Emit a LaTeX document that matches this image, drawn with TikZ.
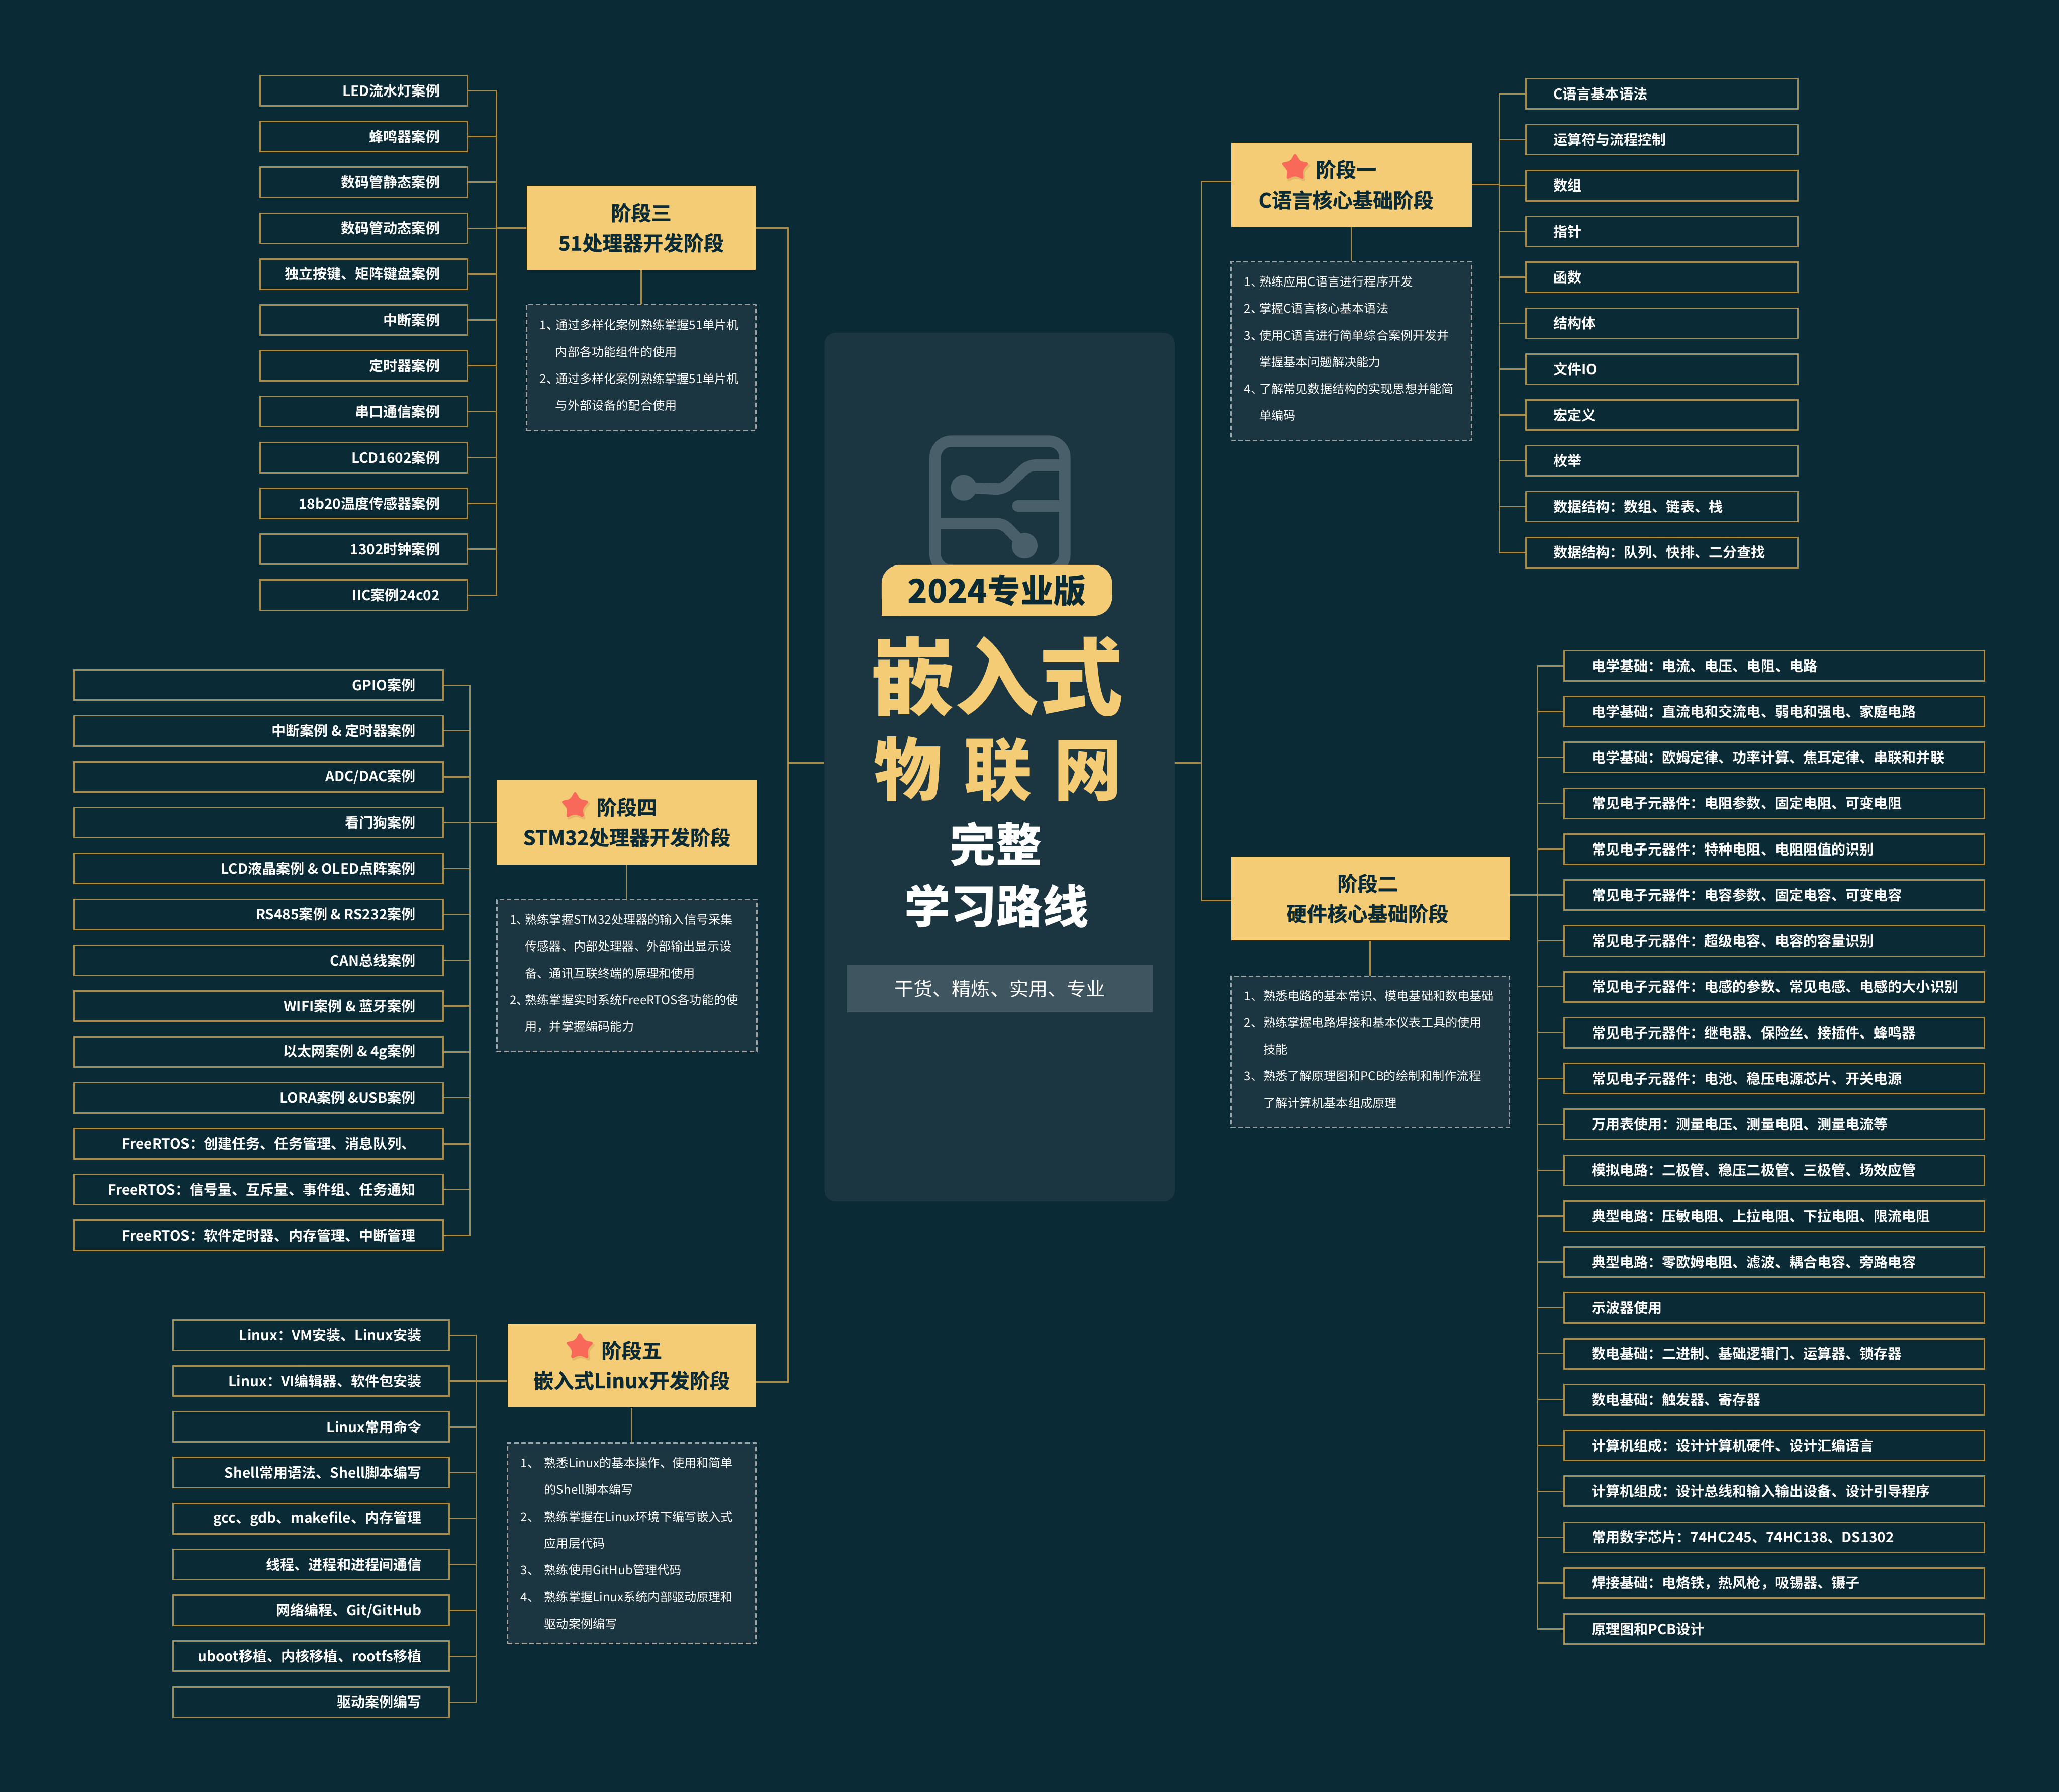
\documentclass[tikz,border=0pt]{standalone}
\usepackage{fontspec}
\usetikzlibrary{shapes.geometric}
\newfontfamily\cjkreg{Noto Sans CJK SC}
\newfontfamily\cjkbold{Noto Sans CJK SC Bold}
\newfontfamily\cjkstage{Noto Sans CJK SC Bold}[FakeBold=0.8]
\newfontfamily\cjkblack{Noto Sans CJK SC Black}
\definecolor{bgc}{HTML}{0A2A35}
\definecolor{panelc}{HTML}{1B3640}
\definecolor{goldc}{HTML}{F4CC76}
\definecolor{linec}{HTML}{A68B4A}
\definecolor{dashc}{HTML}{9EA4A6}
\definecolor{iconc}{HTML}{49606A}
\definecolor{subc}{HTML}{3F5660}
\definecolor{starc}{HTML}{F9695A}
\definecolor{shadc}{HTML}{D9A85E}
\newcommand\nm[1]{\makebox[\dw][l]{#1}}
\newcommand\dend{\rule[-4.6pt]{0pt}{1pt}}
\newcommand\leafr[2]{\makebox[#1][r]{#2}}
\newcommand\leafl[2]{\makebox[#1][l]{#2}}
\tikzset{
  conn/.style={draw=linec,line width=1pt},
  leafbox/.style={rectangle,draw=linec,line width=1.1pt,fill=bgc,text=white,inner xsep=21pt,inner ysep=0pt,minimum height=23pt,
    font=\cjkbold\fontsize{10.75}{12}\selectfont},
  stagebox/.style={rectangle,fill=goldc,text=bgc,align=center,inner sep=0pt,minimum height=64pt,
    font=\cjkstage\fontsize{15.4}{23}\selectfont},
  descbox/.style={rectangle,draw=dashc,line width=1pt,dash pattern=on 3.5pt off 2pt,fill=panelc,text=white,align=left,inner xsep=10pt,inner ysep=0pt,
    font=\cjkreg\fontsize{9.25}{20.4}\selectfont},
  starshape/.style={star,star points=5,star point ratio=1.85,inner sep=0pt,minimum size=23pt,rounded corners=2.2pt,fill=starc},
  starshadow/.style={star,star points=5,star point ratio=1.85,inner sep=0pt,minimum size=24pt,rounded corners=2.2pt,fill=shadc,opacity=.55},
  icon/.style={draw=iconc,line width=8.7pt},
  dot/.style={circle,fill=iconc,inner sep=0pt,minimum size=19.6pt},
  bigt/.style={text=goldc,inner sep=0pt,font=\cjkblack\fontsize{64}{70}\selectfont},
  midt/.style={text=white,inner sep=0pt,font=\cjkblack\fontsize{35}{40}\selectfont},
}
\begin{document}
\begin{tikzpicture}[x=1pt,y=-1pt]
\useasboundingbox (0,0) rectangle (1568,1364.6);
\fill[bgc] (0,0) rectangle (1568,1364.6);

% central panel
\node[rectangle,fill=panelc,rounded corners=8.4pt,minimum width=266.6pt,minimum height=661.6pt,inner sep=0pt] (panel) at (761.3,584.2) {};

% icon
\draw[icon,rounded corners=12.4pt] (712.2,336) rectangle (810.9,434.4);
\node[dot] (dotA) at (733.9,371.4) {};
\node[dot] (dotB) at (780.3,415.6) {};
\draw[icon,rounded corners=5pt] (dotA.center) -- (764,372.5) -- (783.4,354.3) -- (810.9,354.3);
\draw[icon,line cap=round] (775.1,385.3) -- (806,385.3);
\draw[icon,rounded corners=5pt] (712.2,398.7) -- (764,398.7) -- (dotB.center);

% badge
\fill[goldc] (671.4,450) rectangle (695,469);
\node[rectangle,fill=goldc,rounded corners=14pt,minimum width=175.5pt,minimum height=38.8pt,inner sep=0pt,text=bgc,font=\cjkblack\fontsize{25}{28}\selectfont] (badge) at (759.15,449.6) {2024专业版};

% titles
\node[bigt] (titleA) at (759.3,515) {嵌入式};
\node[bigt,font=\cjkblack\fontsize{52}{60}\selectfont] (titleB) at (760,586) {物\hspace{16.5pt}联\hspace{16.5pt}网};
\node[midt] (titleC) at (758.5,643) {完整};
\node[midt] (titleD) at (759,690) {学习路线};
\node[rectangle,fill=subc,minimum width=232.5pt,minimum height=35.9pt,inner sep=0pt,text=white,font=\cjkreg\fontsize{14.6}{18}\selectfont] (sub) at (761.45,753) {干货、精炼、实用、专业};

% stage boxes
\node[stagebox,minimum width=183.3pt] (s1) at (1029.05,140.7) {\hspace*{-8pt}阶段一\\\hspace*{-8pt}C语言核心基础阶段};
\node[stagebox,minimum width=212.1pt] (s2) at (1043.45,684.3) {\hspace*{-4pt}阶段二\\\hspace*{-4pt}硬件核心基础阶段};
\node[stagebox,minimum width=174.5pt] (s3) at (488.25,173.5) {阶段三\\51处理器开发阶段};
\node[stagebox,minimum width=198.1pt] (s4) at (477.35,626.3) {阶段四\\STM32处理器开发阶段};
\node[stagebox,minimum width=189.1pt] (s5) at (481.05,1039.9) {阶段五\\嵌入式Linux开发阶段};

% stars
\node[starshadow] (st1s) at (987.3,129.2) {};
\node[starshape] (st1) at (986.3,127.7) {};
\node[starshadow] (st4s) at (438.9,615.2) {};
\node[starshape] (st4) at (437.9,613.7) {};
\node[starshadow] (st5s) at (442.5,1027.2) {};
\node[starshape] (st5) at (441.5,1025.7) {};

% description boxes
\def\dw{11.6pt}
\node[descbox,minimum width=183.3pt,minimum height=135.8pt,text width=163.3pt] (d1) at (1029.05,267.4) {%
\nm{1、}熟练应用C语言进行程序开发\\
\nm{2、}掌握C语言核心基本语法\\
\nm{3、}使用C语言进行简单综合案例开发并\\
\nm{}掌握基本问题解决能力\\
\nm{4、}了解常见数据结构的实现思想并能简\\
\nm{}单编码\dend};
\def\dw{14.6pt}
\node[descbox,minimum width=212.1pt,minimum height=115.2pt,text width=192.1pt] (d2) at (1043.45,801) {%
\nm{1、}熟悉电路的基本常识、模电基础和数电基础\\
\nm{2、}熟练掌握电路焊接和基本仪表工具的使用\\
\nm{}技能\\
\nm{3、}熟悉了解原理图和PCB的绘制和制作流程\\
\nm{}了解计算机基本组成原理\dend};
\def\dw{12pt}
\node[descbox,minimum width=174.5pt,minimum height=96pt,text width=154.5pt] (d3) at (488.25,280) {%
\nm{1、}通过多样化案例熟练掌握51单片机\\
\nm{}内部各功能组件的使用\\
\nm{2、}通过多样化案例熟练掌握51单片机\\
\nm{}与外部设备的配合使用\dend};
\def\dw{11.6pt}
\node[descbox,minimum width=198.1pt,minimum height=115.5pt,text width=178.1pt] (d4) at (477.35,743) {%
\nm{1、}熟练掌握STM32处理器的输入信号采集\\
\nm{}传感器、内部处理器、外部输出显示设\\
\nm{}备、通讯互联终端的原理和使用\\
\nm{2、}熟练掌握实时系统FreeRTOS各功能的使\\
\nm{}用，并掌握编码能力\dend};
\def\dw{18pt}
\node[descbox,minimum width=189.1pt,minimum height=152.8pt,text width=169.1pt] (d5) at (481.05,1175.3) {%
\nm{1、}熟悉Linux的基本操作、使用和简单\\
\nm{}的Shell脚本编写\\
\nm{2、}熟练掌握在Linux环境下编写嵌入式\\
\nm{}应用层代码\\
\nm{3、}熟练使用GitHub管理代码\\
\nm{4、}熟练掌握Linux系统内部驱动原理和\\
\nm{}驱动案例编写};

% bus coordinates
\coordinate (busL) at (600,581);
\coordinate (busR) at (915,581);
\coordinate (bus1) at (1141.5,140.7);
\coordinate (bus2) at (1171,681.6);
\coordinate (bus3) at (378,173.5);
\coordinate (bus4) at (357.8,626.3);
\coordinate (bus5) at (362.5,1051.7);
\coordinate (joinS1) at (937.4,138.5);
\coordinate (joinS2) at (937.4,685.7);
\coordinate (joinS5) at (575.6,1052.6);

% leaf lists
\foreach \t [count=\i] in {C语言基本语法,运算符与流程控制,数组,指针,函数,结构体,文件IO,宏定义,枚举,数据结构：数组、链表、栈,数据结构：队列、快排、二分查找}{
  \pgfmathsetmacro\yy{71.5+(\i-1)*34.93}
  \node[leafbox] (a\i) at (1265.5,\yy) {\leafl{165pt}{\t}};
  \draw[conn] (a\i.west) -| (bus1);
}
\foreach \t [count=\i] in {电学基础：电流、电压、电阻、电路,电学基础：直流电和交流电、弱电和强电、家庭电路,电学基础：欧姆定律、功率计算、焦耳定律、串联和并联,常见电子元器件：电阻参数、固定电阻、可变电阻,常见电子元器件：特种电阻、电阻阻值的识别,常见电子元器件：电容参数、固定电容、可变电容,常见电子元器件：超级电容、电容的容量识别,常见电子元器件：电感的参数、常见电感、电感的大小识别,常见电子元器件：继电器、保险丝、接插件、蜂鸣器,常见电子元器件：电池、稳压电源芯片、开关电源,万用表使用：测量电压、测量电阻、测量电流等,模拟电路：二极管、稳压二极管、三极管、场效应管,典型电路：压敏电阻、上拉电阻、下拉电阻、限流电阻,典型电路：零欧姆电阻、滤波、耦合电容、旁路电容,示波器使用,数电基础：二进制、基础逻辑门、运算器、锁存器,数电基础：触发器、寄存器,计算机组成：设计计算机硬件、设计汇编语言,计算机组成：设计总线和输入输出设备、设计引导程序,常用数字芯片：74HC245、74HC138、DS1302,焊接基础：电烙铁，热风枪，吸锡器、镊子,原理图和PCB设计}{
  \pgfmathsetmacro\yy{507+(\i-1)*34.93}
  \node[leafbox] (b\i) at (1351,\yy) {\leafl{278pt}{\t}};
  \draw[conn] (b\i.west) -| (bus2);
}
\foreach \t [count=\i] in {LED流水灯案例,蜂鸣器案例,数码管静态案例,数码管动态案例,独立按键、矩阵键盘案例,中断案例,定时器案例,串口通信案例,LCD1602案例,18b20温度传感器案例,1302时钟案例,IIC案例24c02}{
  \pgfmathsetmacro\yy{69+(\i-1)*34.93}
  \node[leafbox] (c\i) at (277,\yy) {\leafr{116pt}{\t}};
  \draw[conn] (c\i.east) -| (bus3);
}
\foreach \t [count=\i] in {GPIO案例,中断案例 \& 定时器案例,ADC/DAC案例,看门狗案例,LCD液晶案例 \& OLED点阵案例,RS485案例 \& RS232案例,CAN总线案例,WIFI案例 \& 蓝牙案例,以太网案例 \& 4g案例,LORA案例 \&USB案例,FreeRTOS：创建任务、任务管理、消息队列、,FreeRTOS：信号量、互斥量、事件组、任务通知,FreeRTOS：软件定时器、内存管理、中断管理}{
  \pgfmathsetmacro\yy{521.7+(\i-1)*34.93}
  \node[leafbox] (e\i) at (197,\yy) {\leafr{239pt}{\t}};
  \draw[conn] (e\i.east) -| (bus4);
}
\foreach \t [count=\i] in {Linux：VM安装、Linux安装,Linux：VI编辑器、软件包安装,Linux常用命令,Shell常用语法、Shell脚本编写,gcc、gdb、makefile、内存管理,线程、进程和进程间通信,网络编程、Git/GitHub,uboot移植、内核移植、rootfs移植,驱动案例编写}{
  \pgfmathsetmacro\yy{1016.8+(\i-1)*34.93}
  \node[leafbox] (f\i) at (237,\yy) {\leafr{168pt}{\t}};
  \draw[conn] (f\i.east) -| (bus5);
}

% connectors
\draw[conn] (s1.east |- bus1) -- (bus1);
\draw[conn] (s2.east |- bus2) -- (bus2);
\draw[conn] (s3.west |- bus3) -- (bus3);
\draw[conn] (s4.west |- bus4) -- (bus4);
\draw[conn] (s5.west |- bus5) -- (bus5);
\draw[conn] (s1) -- (d1);
\draw[conn] (s2) -- (d2);
\draw[conn] (s3) -- (d3);
\draw[conn] (s4) -- (d4);
\draw[conn] (s5) -- (d5);
\draw[conn] (panel.west |- busL) -- (busL);
\draw[conn] (panel.east |- busR) -- (busR);
\draw[conn] (s3.east) -| (busL);
\draw[conn] (joinS5) -| (busL);
\draw[conn] (joinS1) -| (busR);
\draw[conn] (joinS2) -| (busR);
\end{tikzpicture}
\end{document}
